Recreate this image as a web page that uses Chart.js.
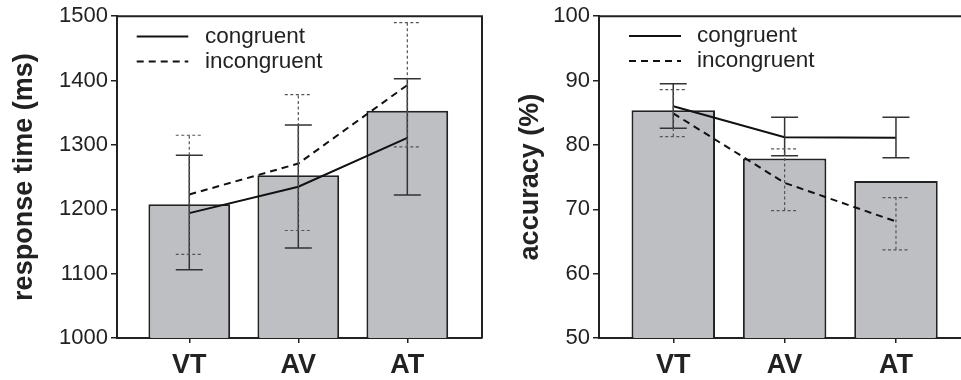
<!DOCTYPE html>
<html>
<head>
<meta charset="utf-8">
<script src="https://cdn.jsdelivr.net/npm/chart.js@4.4.1/dist/chart.umd.min.js"></script>
<style>
  body { margin: 0; background: #fff; }
  #left { position: absolute; left: 0; top: 0; }
  #right { position: absolute; left: 484px; top: 0; }
</style>
</head>
<body>
<canvas id="left" width="484" height="380"></canvas>
<canvas id="right" width="477" height="380"></canvas>
<script>
const categories = ['VT', 'AV', 'AT']
const seriesNames = ['congruent', 'incongruent']

// response time (ms)
const rtTicks = [1000, 1100, 1200, 1300, 1400, 1500]
const rtBars = [1208, 1253, 1353]
const rtCongruent = [1194, 1235, 1311]
const rtCongruentLow = [1106, 1140, 1222]
const rtCongruentHigh = [1284, 1331, 1403]
const rtIncongruent = [1223, 1271, 1393]
const rtIncongruentLow = [1130, 1167, 1297]
const rtIncongruentHigh = [1315, 1378, 1490]

// accuracy (%)
const accTicks = [50, 60, 70, 80, 90, 100]
const accBars = [85.4, 77.9, 74.4]
const accCongruent = [86.0, 81.2, 81.1]
const accCongruentLow = [82.6, 78.3, 78.0]
const accCongruentHigh = [89.5, 84.3, 84.3]
const accIncongruent = [84.9, 74.1, 68.1]
const accIncongruentLow = [81.3, 69.8, 63.7]
const accIncongruentHigh = [88.6, 79.4, 71.8]

const ink = '#222'
const family = '"Liberation Sans", Arial, Helvetica, sans-serif'
Chart.defaults.font.family = family
Chart.defaults.color = ink

const toPoints = arr => arr.map((v, i) => ({ x: i + 1, y: v }))

// top and right edge of the plot box
const framePlugin = {
  id: 'frame',
  afterDraw(chart, args, opts) {
    const { ctx, chartArea: a } = chart
    ctx.save()
    ctx.strokeStyle = ink
    ctx.lineWidth = 2
    ctx.beginPath()
    ctx.moveTo(a.left, a.top)
    ctx.lineTo(a.right, a.top)
    if (opts.right) ctx.lineTo(a.right, a.bottom)
    ctx.stroke()
    ctx.restore()
  }
}

const errorBarPlugin = {
  id: 'errorBars',
  afterDatasetsDraw(chart, args, opts) {
    const { ctx, scales: { x, y } } = chart
    ctx.save()
    opts.series.forEach(s => {
      ctx.strokeStyle = s.color
      ctx.lineWidth = s.width
      ctx.setLineDash(s.dash)
      s.low.forEach((lo, i) => {
        const px = x.getPixelForValue(i + 1)
        const y0 = y.getPixelForValue(lo)
        const y1 = y.getPixelForValue(s.high[i])
        ctx.beginPath()
        ctx.moveTo(px, y0); ctx.lineTo(px, y1)
        ctx.moveTo(px - 13.5, y0); ctx.lineTo(px + 13.5, y0)
        ctx.moveTo(px - 13.5, y1); ctx.lineTo(px + 13.5, y1)
        ctx.stroke()
      })
    })
    ctx.restore()
  }
}

const legendPlugin = {
  id: 'insideLegend',
  afterDraw(chart, args, opts) {
    const { ctx, chartArea: a } = chart
    const lines = chart.data.datasets.filter(d => d.type === 'line')
    ctx.save()
    ctx.font = '22.5px ' + family
    ctx.textBaseline = 'middle'
    ctx.fillStyle = ink
    lines.forEach((d, i) => {
      const yy = a.top + opts.top + i * 25
      ctx.strokeStyle = d.borderColor
      ctx.lineWidth = 2
      ctx.setLineDash(d.borderDash || [])
      ctx.beginPath()
      ctx.moveTo(a.left + opts.lineStart, yy)
      ctx.lineTo(a.left + opts.lineEnd, yy)
      ctx.stroke()
      ctx.fillText(d.label, a.left + opts.textStart, yy)
    })
    ctx.restore()
  }
}

function makePanel(id, p) {
  return new Chart(document.getElementById(id), {
    data: {
      datasets: [
        {
          type: 'line', label: seriesNames[0], data: toPoints(p.congruent), order: 1,
          borderColor: '#111', borderWidth: 2, pointRadius: 0, tension: 0
        },
        {
          type: 'line', label: seriesNames[1], data: toPoints(p.incongruent), order: 1,
          borderColor: '#111', borderWidth: 2, borderDash: [7, 5], pointRadius: 0, tension: 0
        },
        {
          type: 'bar', label: 'mean', data: toPoints(p.bars), order: 2,
          backgroundColor: '#bebfc3', borderColor: ink, borderWidth: 2,
          barPercentage: 0.75, categoryPercentage: 1
        }
      ]
    },
    options: {
      responsive: false,
      animation: false,
      layout: { padding: p.padding },
      plugins: {
        legend: { display: false },
        tooltip: { enabled: false },
        frame: { right: p.frameRight },
        insideLegend: p.legend,
        errorBars: {
          series: [
            { low: p.congruentLow, high: p.congruentHigh, color: '#333', width: 1.5, dash: [] },
            { low: p.incongruentLow, high: p.incongruentHigh, color: '#555', width: 1.2, dash: [3, 2.5] }
          ]
        }
      },
      scales: {
        x: {
          type: 'linear', min: p.xMin, max: p.xMax, offset: false,
          afterBuildTicks: s => { s.ticks = categories.map((c, i) => ({ value: i + 1 })) },
          afterFit: s => { s.height = 42 },
          border: { color: ink, width: 2 },
          grid: { drawOnChartArea: false, offset: false, tickLength: 5, color: ink, lineWidth: 1.5 },
          ticks: {
            font: { size: 27, weight: 'bold' }, color: ink, padding: 6,
            maxRotation: 0, autoSkip: false,
            callback: v => categories[v - 1]
          }
        },
        y: {
          min: p.ticks[0], max: p.ticks[p.ticks.length - 1],
          afterBuildTicks: s => { s.ticks = p.ticks.map(v => ({ value: v })) },
          afterFit: s => { s.width = p.yWidth },
          border: { color: ink, width: 2 },
          grid: { drawOnChartArea: false, tickLength: 6, color: ink, lineWidth: 1.5 },
          ticks: { font: { size: 22 }, color: ink, padding: 3, callback: v => String(v) },
          title: {
            display: true, text: p.title, color: ink,
            font: { size: 27, weight: 'bold', lineHeight: 1 },
            padding: { top: p.titlePad, bottom: 0 }
          }
        }
      }
    },
    plugins: [framePlugin, errorBarPlugin, legendPlugin]
  })
}

makePanel('left', {
  title: 'response time (ms)', ticks: rtTicks, bars: rtBars,
  congruent: rtCongruent, congruentLow: rtCongruentLow, congruentHigh: rtCongruentHigh,
  incongruent: rtIncongruent, incongruentLow: rtIncongruentLow, incongruentHigh: rtIncongruentHigh,
  xMin: 0.337, xMax: 3.685, yWidth: 117, titlePad: 11,
  padding: { top: 13.5, right: 2, left: 0, bottom: 0 }, frameRight: true,
  legend: { top: 20.2, lineStart: 19.7, lineEnd: 71.3, textStart: 88 }
})

makePanel('right', {
  title: 'accuracy (%)', ticks: accTicks, bars: accBars,
  congruent: accCongruent, congruentLow: accCongruentLow, congruentHigh: accCongruentHigh,
  incongruent: accIncongruent, incongruentLow: accIncongruentLow, incongruentHigh: accIncongruentHigh,
  xMin: 0.333, xMax: 3.584, yWidth: 115, titlePad: 33.5,
  padding: { top: 14, right: 0, left: 0, bottom: 0 }, frameRight: false,
  legend: { top: 19.7, lineStart: 30, lineEnd: 82, textStart: 98 }
})
</script>
</body>
</html>
